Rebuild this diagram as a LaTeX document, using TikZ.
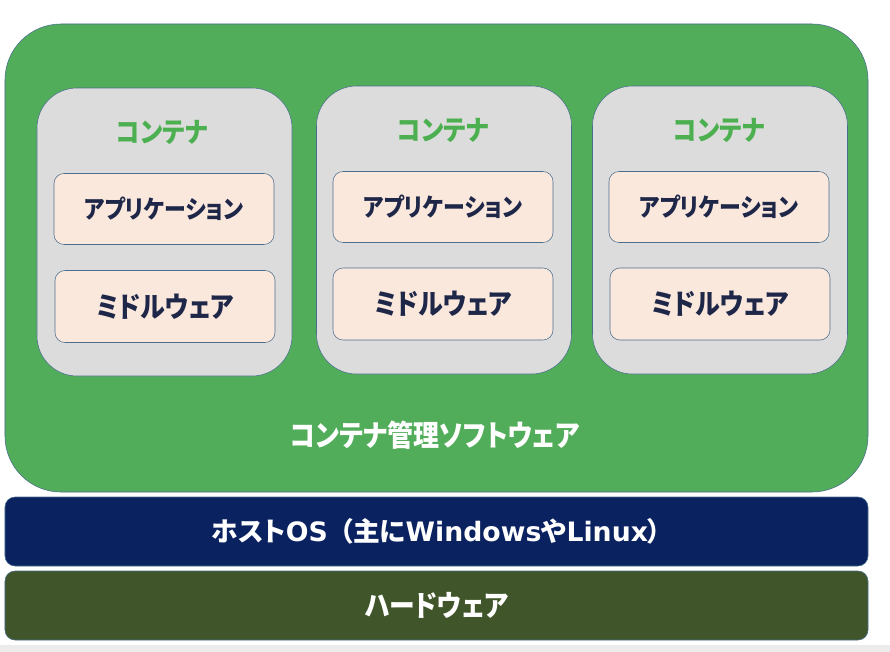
\documentclass[tikz,border=0pt]{standalone}
\usepackage{graphicx}
\usepackage{fontspec}
\setmainfont{Noto Sans CJK JP}[RawFeature=+palt]
\newfontfamily\latinwide{DejaVu Sans}
\usetikzlibrary{positioning}

\definecolor{mgmtgreen}{HTML}{52AD5A}
\definecolor{boxgray}{HTML}{DCDCDC}
\definecolor{peach}{HTML}{FBE8DD}
\definecolor{edgeblue}{HTML}{4A6E8E}
\definecolor{titlegreen}{HTML}{4CAF50}
\definecolor{inktext}{HTML}{1E2748}
\definecolor{osnavy}{HTML}{0B2260}
\definecolor{hwolive}{HTML}{40552A}

\newcommand{\lat}[1]{{\latinwide #1}}
\newcommand{\narrow}[1]{\scalebox{0.88}[1]{#1}}

\begin{document}
\begin{tikzpicture}[
    x=0.25mm, y=-0.25mm,
    every node/.style={font=\large},
    mgmt/.style={rectangle, draw=edgeblue, fill=mgmtgreen, rounded corners=1.4cm, minimum width=21.575cm, minimum height=11.7cm},
    cont/.style={rectangle, draw=edgeblue, fill=boxgray, rounded corners=1cm, minimum width=6.375cm, minimum height=7.2cm},
    ctitle/.style={text=titlegreen, font=\fontsize{19.7}{23}\selectfont\bfseries},
    app/.style={rectangle, draw=edgeblue, fill=peach, rounded corners=0.25cm, minimum width=5.5cm, minimum height=1.775cm, text=inktext, font=\fontsize{17.7}{21}\selectfont\bfseries},
    mw/.style={rectangle, draw=edgeblue, fill=peach, rounded corners=0.25cm, minimum width=5.5cm, minimum height=1.8cm, text=inktext, font=\fontsize{20.2}{23}\selectfont\bfseries},
    layer/.style={rectangle, draw=edgeblue, rounded corners=0.25cm, minimum width=21.575cm, minimum height=1.725cm, text=white, font=\fontsize{20.8}{24}\selectfont\bfseries}
]
\useasboundingbox (0,0) rectangle (890,652);
\fill[gray!15] (0,645) rectangle (890,652);

% Container management software
\node[mgmt] (mgmt) at (436.5,258) {};
\node[text=white, font=\fontsize{21}{25}\selectfont\bfseries] (mgmtlabel) at (435,435) {\narrow{コンテナ管理ソフトウェア}};

% Containers
\node[cont] (cont1) at (164.5,232) {};
\node[cont] (cont2) at (444,230) {};
\node[cont] (cont3) at (720,230) {};

\node[ctitle] (title1) at (162,132) {\narrow{コンテナ}};
\node[ctitle] (title2) at (443,130) {\narrow{コンテナ}};
\node[ctitle] (title3) at (719,130) {\narrow{コンテナ}};

% Applications
\node[app] (app1) at (164,209) {\narrow{アプリケーション}};
\node[app] (app2) at (443,207) {\narrow{アプリケーション}};
\node[app] (app3) at (719,207) {\narrow{アプリケーション}};

% Middleware
\node[mw] (mw1) at (165,306.5) {\narrow{ミドルウェア}};
\node[mw] (mw2) at (443,304) {\narrow{ミドルウェア}};
\node[mw] (mw3) at (720,304) {\narrow{ミドルウェア}};

% Host OS and hardware
\node[layer, fill=osnavy, font=\fontsize{19}{22}\selectfont\bfseries] (hostos) at (436.5,531.5) {ホスト\lat{OS}\hspace{0.45em}（主に\lat{Windows}や\lat{Linux}）\hspace{0.75em}};
\node[layer, fill=hwolive] (hardware) at (436.5,605.5) {\narrow{ハードウェア}};

\end{tikzpicture}
\end{document}
